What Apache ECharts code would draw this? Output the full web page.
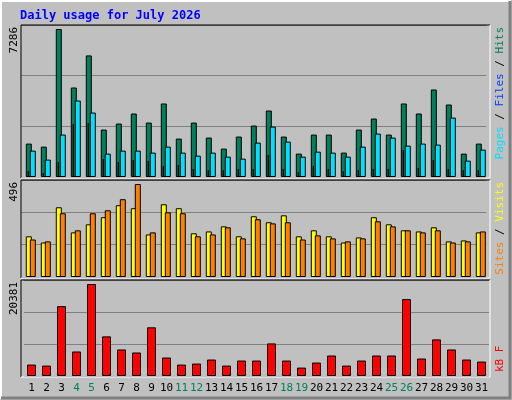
<!DOCTYPE html>
<html><head><meta charset="utf-8">
<script src="https://cdn.jsdelivr.net/npm/echarts@6/dist/echarts.min.js"></script>
<style>html,body{margin:0;padding:0;background:#c0c0c0}#c{width:512px;height:400px}</style>
</head><body><div id="c"></div>
<script>
const days = ['1','2','3','4','5','6','7','8','9','10','11','12','13','14','15','16','17','18','19','20','21','22','23','24','25','26','27','28','29','30','31'];
const weekend = ['4','5','11','12','18','19','25','26'];
const hits  = [1644,1496,7286,4406,5985,2335,2631,3125,2680,3619,1891,2680,1941,1398,1990,2532,3273,1990,1151,2088,2088,1200,2335,2878,2088,3619,3125,4308,3569,1151,1644];
const files = [1299,855,2088,3765,3173,1151,1299,1299,1200,1496,1200,1052,1200,1003,904,1693,2482,1743,1003,1249,1200,1003,1496,2137,1940,1545,1644,1595,2926,806,1348];
const pages = [312,214,756,2630,2680,904,756,855,806,559,608,411,362,362,411,411,1101,411,263,559,411,312,362,411,411,1348,460,855,411,362,362];
const visits = [217,184,372,238,281,319,383,367,227,388,367,233,243,270,217,324,292,329,217,249,217,184,211,319,281,249,243,265,190,195,238];
const sites  = [200,190,340,249,340,356,415,496,238,345,340,217,227,265,206,308,286,292,200,222,206,190,206,297,270,249,238,249,184,190,243];
const kbytes = [2530,2306,15475,5431,20381,8779,5878,5208,10788,4092,2530,2753,3646,2306,3422,3422,7217,3422,1860,2976,4538,2306,3422,4538,4538,17038,3869,8110,5878,3646,3199];
const maxLabels = ['7286','496','20381'];

const panels = [
  {top:25, h:152, max:7286*152/148},
  {top:180, h:97, max:496*96.4/92.4},
  {top:280, h:96, max:20381*95.4/91.4}
];
// [panel, shift, data, color, width]
const sdefs = [
  [0,-2.7,hits,'#00805c',6],
  [0,-3.2,pages,'#0040ff',1],
  [0,1.3,files,'#00e0ff',6],
  [1,-2.7,visits,'#ffff00',6],
  [1,1.3,sites,'#ff8000',6],
  [2,0,kbytes,'#ff0000',9]
];
const grid=[],xAxis=[],yAxis=[],series=[];
sdefs.forEach((d,i)=>{
  const p=panels[d[0]];
  grid.push({left:24+d[1],top:p.top,width:465,height:p.h});
  const showLbl = i===5;
  xAxis.push({type:'category',gridIndex:i,data:days,axisLine:{show:false},axisTick:{show:false},
    axisLabel:{show:showLbl,margin:7,fontFamily:'DejaVu Sans Mono',fontSize:11,interval:0,
      formatter:v=>weekend.includes(v)?'{w|'+v+'}':'{n|'+v+'}',
      rich:{w:{color:'#00805c',fontFamily:'DejaVu Sans Mono',fontSize:11},n:{color:'#000',fontFamily:'DejaVu Sans Mono',fontSize:11}}}});
  const firstOfPanel = sdefs.findIndex(s=>s[0]===d[0])===i;
  yAxis.push({type:'value',gridIndex:i,min:0,max:p.max,interval:p.max/3,axisLabel:{show:false},axisLine:{show:false},axisTick:{show:false},
    splitLine:{show:firstOfPanel,lineStyle:{color:'#808080',width:1}}});
  series.push({type:'bar',xAxisIndex:i,yAxisIndex:i,data:d[2],barWidth:d[4],z:2+i,
    itemStyle:{color:d[3],borderColor:'#000',borderWidth:1},silent:true,animation:false});
});
const txt=(x,y,text,color,extra)=>Object.assign({type:'text',x,y,rotation:Math.PI/2,
  style:{text,fill:color,font:'11px "DejaVu Sans Mono"',align:'right',verticalAlign:'middle'}},extra||{});
const frame=(t,b)=>[
  {type:'line',shape:{x1:21,y1:t,x2:490,y2:t},style:{stroke:'#000',lineWidth:1},z:50},
  {type:'line',shape:{x1:21,y1:t,x2:21,y2:b},style:{stroke:'#000',lineWidth:1},z:50},
  {type:'line',shape:{x1:21,y1:b,x2:490,y2:b},style:{stroke:'#fff',lineWidth:1},z:50},
  {type:'line',shape:{x1:490,y1:t,x2:490,y2:b},style:{stroke:'#fff',lineWidth:1},z:50}
];
const graphic=[
  {type:'rect',shape:{x:0,y:0,width:512,height:400},style:{fill:'#c0c0c0'},z:-10},
  {type:'polyline',shape:{points:[[1,399],[1,1],[511,1]]},style:{stroke:'#fff',lineWidth:2,fill:null},z:60},
  {type:'polyline',shape:{points:[[1,398],[510,398],[510,1]]},style:{stroke:'#808080',lineWidth:3,fill:null},z:60},
  {type:'text',x:20,y:16,style:{text:'Daily usage for July 2026',fill:'#0000ff',font:'bold 12px "DejaVu Sans Mono"',verticalAlign:'middle'}},
  ...frame(25,178),...frame(180,278),...frame(280,377),
  txt(14,27,maxLabels[0],'#000'),
  txt(14,182,maxLabels[1],'#000'),
  txt(14,282,maxLabels[2],'#000'),
  {type:'text',x:500,y:27,rotation:Math.PI/2,style:{rich:{p:{fill:'#00e0ff'},f:{fill:'#0040ff'},h:{fill:'#00805c'},s:{fill:'#000'}},text:'{p|Pages}{s| / }{f|Files}{s| / }{h|Hits}',font:'11px "DejaVu Sans Mono"',align:'right',verticalAlign:'middle'}},
  {type:'text',x:500,y:182,rotation:Math.PI/2,style:{rich:{a:{fill:'#ff8000'},b:{fill:'#ffff00'},s:{fill:'#000'}},text:'{a|Sites}{s| / }{b|Visits}',font:'11px "DejaVu Sans Mono"',align:'right',verticalAlign:'middle'}},
  {type:'text',x:500,y:282,rotation:Math.PI/2,style:{text:'kB F',fill:'#ff0000',font:'11px "DejaVu Sans Mono"',align:'right',verticalAlign:'bottom'}}
];
graphic[graphic.length-1].y=372; graphic[graphic.length-1].style.align='left';
graphic[graphic.length-1].style.verticalAlign='middle';
const chart=echarts.init(document.getElementById('c'));
chart.setOption({backgroundColor:'#c0c0c0',animation:false,grid,xAxis,yAxis,series,graphic});
</script></body></html>
